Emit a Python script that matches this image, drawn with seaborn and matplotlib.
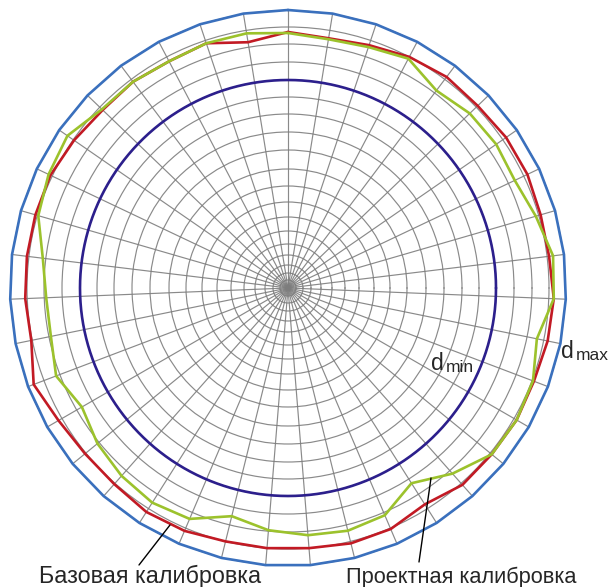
import numpy as np
import pandas as pd
import matplotlib
matplotlib.use("Agg")
import matplotlib.pyplot as plt
from matplotlib.lines import Line2D
import seaborn as sns

# ---- section mesh -------------------------------------------------------
n_spokes = 39
spoke_deg = 90 + np.arange(n_spokes) * 360.0 / n_spokes          # radial mesh lines
ring_radii = [8, 15, 23, 33, 44, 57, 71, 86, 102, 119, 138, 156,
              174, 191, 208, 226, 244, 261, 278]                  # circumferential mesh lines

# tolerance band of the rolled bar
d_min = 208
d_max = 278

# ---- profile contours, one radius per spoke (starting at the top, CCW) --
base_profile = [256, 249, 258, 256, 258, 257, 260, 263, 263, 263,
                263, 262, 272, 265, 262, 262, 265, 264, 261, 261,
                261, 263, 262, 256, 263, 263, 264, 263, 265, 266,
                263, 263, 265, 265, 263, 264, 261, 256, 253]
project_profile = [255, 258, 258, 256, 258, 258, 268, 265, 260, 247,
                   242, 242, 248, 238, 246, 251, 254, 251, 235, 243,
                   248, 250, 247, 231, 248, 263, 264, 262, 254, 266,
                   267, 258, 251, 253, 252, 247, 259, 254, 252]

label_base = "Базовая калибровка"
label_project = "Проектная калибровка"

# ---- styling --------------------------------------------------------------
sns.set_style("white")
plt.rcParams["font.family"] = ["Liberation Sans", "DejaVu Sans"]

c_grid = "#7d7d7d"
c_dmax = "#3a70bd"
c_dmin = "#2c1f8c"
c_base = "#c21a24"
c_project = "#9cc22c"

W, H = 616, 587
fig = plt.figure(figsize=(W / 100, H / 100), dpi=100)
cx, cy, R = 288, 299, 278          # centre (from bottom) and outer radius in px
ax = fig.add_axes([(cx - R) / W, (cy - R) / H, 2 * R / W, 2 * R / H],
                  projection="polar")

ax.set_thetagrids(spoke_deg % 360, labels=[""] * n_spokes)
ax.set_rgrids(ring_radii, labels=[""] * len(ring_radii))
ax.grid(True, color=c_grid, linewidth=0.85, alpha=0.9)
ax.set_axisbelow(True)
ax.spines["polar"].set_visible(False)
ax.tick_params(length=0)


def closed_frame(values):
    theta = np.deg2rad(np.append(spoke_deg, spoke_deg[0] + 360))
    r = np.append(values, values[0])
    return pd.DataFrame({"theta": theta, "r": r})


# d_max: polygon through the mesh nodes
sns.lineplot(data=closed_frame([d_max] * n_spokes), x="theta", y="r",
             sort=False, estimator=None, ax=ax, color=c_dmax,
             linewidth=1.9, clip_on=False, zorder=3)

# d_min: smooth circle
t_fine = np.linspace(0, 2 * np.pi, 361)
ax.plot(t_fine, np.full_like(t_fine, d_min), color=c_dmin, linewidth=1.9, zorder=3)

sns.lineplot(data=closed_frame(base_profile), x="theta", y="r",
             sort=False, estimator=None, ax=ax, color=c_base,
             linewidth=1.9, clip_on=False, zorder=4)
sns.lineplot(data=closed_frame(project_profile), x="theta", y="r",
             sort=False, estimator=None, ax=ax, color=c_project,
             linewidth=1.9, clip_on=False, zorder=5)

ax.set_ylim(0, d_max)
ax.set_xlabel("")
ax.set_ylabel("")


# ---- annotations (pixel positions measured from the top-left corner) -----
def fx(x):
    return x / W


def fy(y):
    return 1 - y / H


fig.text(fx(431), fy(370), "d", fontsize=16.5, va="baseline", ha="left")
fig.text(fx(446), fy(372), "min", fontsize=12.5, va="baseline", ha="left")
fig.text(fx(561), fy(358), "d", fontsize=16.5, va="baseline", ha="left")
fig.text(fx(576), fy(360), "max", fontsize=12.5, va="baseline", ha="left")

fig.text(fx(39), fy(583), label_base, fontsize=16.8, va="baseline", ha="left")
fig.text(fx(346), fy(583), label_project, fontsize=15.7, va="baseline", ha="left")

fig.add_artist(Line2D([fx(139), fx(170)], [fy(565), fy(525)],
                      color="black", linewidth=1.0))
fig.add_artist(Line2D([fx(419), fx(431)], [fy(562), fy(478)],
                      color="black", linewidth=1.0))

fig.savefig("out.png", dpi=100, facecolor="white")
